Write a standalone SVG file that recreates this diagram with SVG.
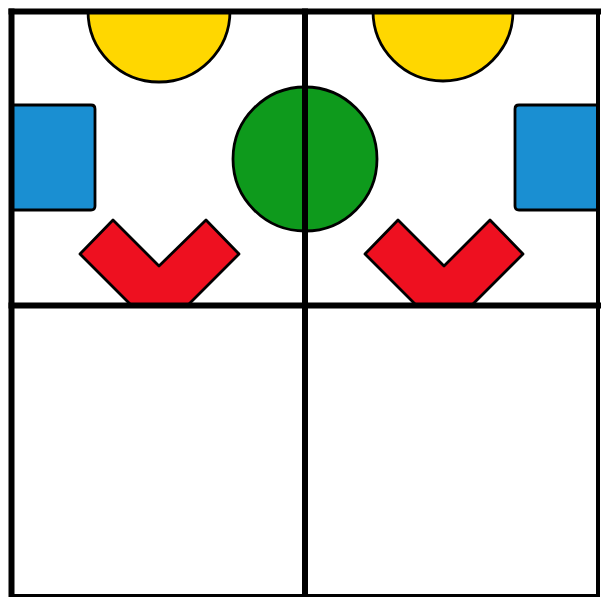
<svg xmlns="http://www.w3.org/2000/svg" width="601" height="597" viewBox="0 0 601 597">
<style>
.sh{stroke:#000;stroke-width:2.8;stroke-linejoin:round}
.yel{fill:#FFD700}
.blu{fill:#1A8FD2}
.grn{fill:#0E9A1C}
.red{fill:#EE1020}
.grid{stroke:#000;fill:none;stroke-linecap:square}
</style>
<rect width="601" height="597" fill="#fff"/>
<g id="yellow-left"><path class="sh yel" d="M88 11 A71 71 0 0 0 230 11 Z"/></g>
<g id="yellow-right"><path class="sh yel" d="M373 11 A70 70 0 0 0 513 11 Z"/></g>
<g id="blue-left"><path class="sh blu" d="M11.5 105 H91 Q95 105 95 109 V206 Q95 210 91 210 H11.5 Z"/></g>
<g id="blue-right"><path class="sh blu" d="M598 105 H519 Q515 105 515 109 V206 Q515 210 519 210 H598 Z"/></g>
<g id="green-circle"><circle class="sh grn" cx="305" cy="159" r="72"/></g>
<g id="red-left"><polygon class="sh red" points="80,254 113,220 159,266 206,220 239,254 188,305 131,305"/></g>
<g id="red-right"><polygon class="sh red" points="365,254 398,220 444,266 490,220 523,254 472,305 416,305"/></g>
<g id="grid">
<line class="grid" x1="11.5" y1="11.5" x2="11.5" y2="595" stroke-width="6"/>
<line class="grid" x1="11.5" y1="11.5" x2="598" y2="11.5" stroke-width="6"/>
<line class="grid" x1="598" y1="11.5" x2="598" y2="595.5" stroke-width="4"/>
<line class="grid" x1="11.5" y1="595.5" x2="598" y2="595.5" stroke-width="3"/>
<line class="grid" x1="305" y1="11.5" x2="305" y2="595.5" stroke-width="6"/>
<line class="grid" x1="11.5" y1="305.5" x2="598" y2="305.5" stroke-width="6"/>
</g>
</svg>
